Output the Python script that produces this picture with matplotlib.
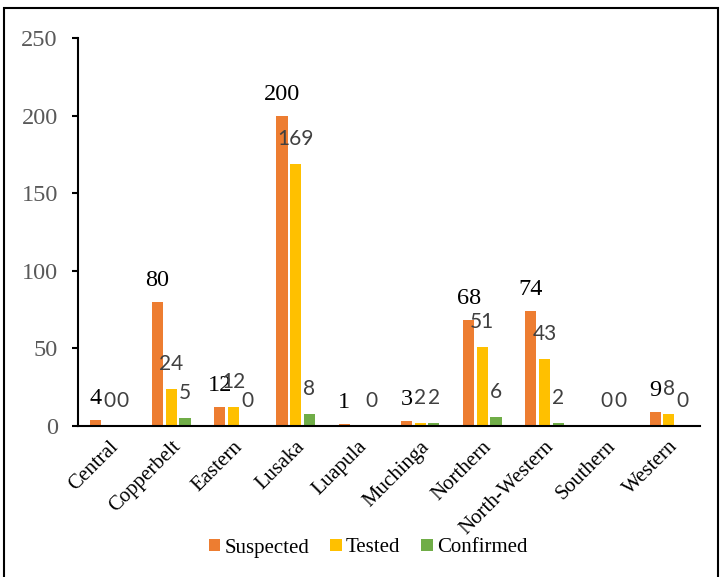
import numpy as np
import matplotlib
matplotlib.use("Agg")
import matplotlib.pyplot as plt
from matplotlib.patches import Rectangle, Patch

provinces = ["Central", "Copperbelt", "Eastern", "Lusaka", "Luapula",
             "Muchinga", "Northern", "North-Western", "Southern", "Western"]
suspected = [4, 80, 12, 200, 1, 3, 68, 74, np.nan, 9]
tested = [0, 24, 12, 169, np.nan, 2, 51, 43, 0, 8]
confirmed = [0, 5, 0, 8, 0, 2, 6, 2, 0, 0]
series_names = ["Suspected", "Tested", "Confirmed"]
colors = ["#ED7D31", "#FFC000", "#70AD47"]
yticks = [0, 50, 100, 150, 200, 250]

W, H = 721, 577
fig = plt.figure(figsize=(W / 100, H / 100), dpi=100)
ax = fig.add_axes([78 / W, 1 - 426 / H, (700 - 78) / W, (426 - 38) / H])

# outer frame around the whole chart
fig.patches.append(Rectangle((4 / W, -0.01), (718 - 4) / W, 1 - 8 / H + 0.01,
                             transform=fig.transFigure, fill=False,
                             edgecolor="black", linewidth=1.5))

x = np.arange(len(provinces))
step = 0.22
width = 0.18
all_series = [suspected, tested, confirmed]
label_styles = [
    dict(family="Liberation Serif", color="black", fontsize=17.5),
    dict(family="Lato", color="#404040", fontsize=15),
    dict(family="Lato", color="#404040", fontsize=15),
]
label_offsets = [15.5, 18, 18]

for i, (vals, col) in enumerate(zip(all_series, colors)):
    pos = x + (i - 1) * step
    v = np.array(vals, dtype=float)
    ax.bar(pos, np.nan_to_num(v), width=width, color=col, linewidth=0)
    for px, val in zip(pos, v):
        if np.isnan(val):
            continue
        ax.annotate(f"{int(val)}", (px, val), xytext=(0, label_offsets[i]),
                    textcoords="offset points", ha="center", va="center",
                    **label_styles[i])

ax.set_xlim(-0.5, len(provinces) - 0.5)
ax.set_ylim(0, 250)
ax.set_yticks(yticks)
ax.set_yticklabels([str(t) for t in yticks], family="Liberation Serif",
                   fontsize=17.5, color="#595959")
ax.tick_params(axis="y", length=4.5, width=1.5, pad=10, direction="out")
ax.set_xticks(x)
ax.set_xticklabels(provinces, rotation=45, ha="right", rotation_mode="anchor",
                   family="Liberation Serif", fontsize=15)
ax.tick_params(axis="x", length=0, pad=8)

for s in ["top", "right"]:
    ax.spines[s].set_visible(False)
ax.spines["left"].set_linewidth(1.5)
ax.spines["bottom"].set_linewidth(1.5)

handles = [Patch(facecolor=c, edgecolor="none") for c in colors]
fig.legend(handles, series_names, loc="center",
           bbox_to_anchor=(368 / W, 1 - 548 / H), ncol=3, frameon=False,
           prop=dict(family="Liberation Serif", size=15),
           handlelength=0.55, handleheight=0.55, handletextpad=0.2,
           columnspacing=1.0)

fig.savefig("out.png", dpi=100)
